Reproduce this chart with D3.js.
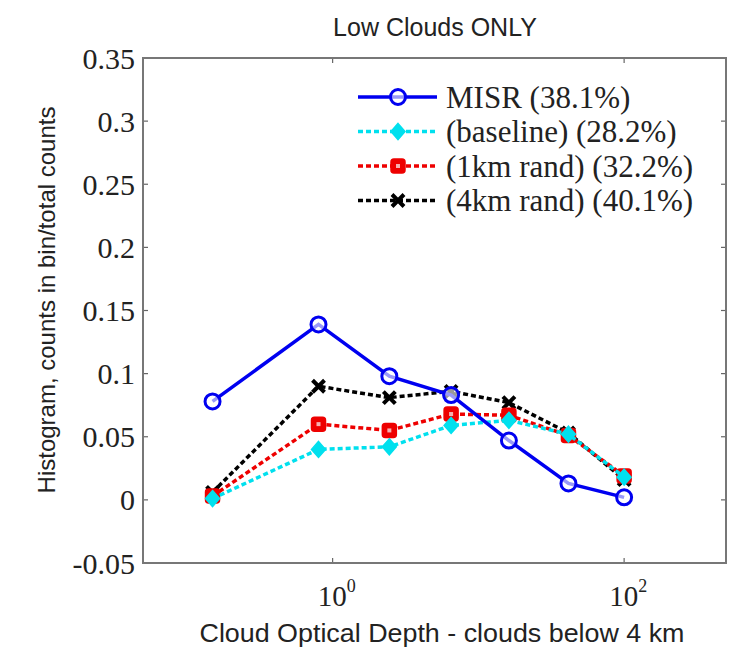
<!DOCTYPE html>
<html>
<head>
<meta charset="utf-8">
<script src="https://cdn.jsdelivr.net/npm/d3@7"></script>
<style>
  body { margin: 0; background: #fff; }
  svg { display: block; }
</style>
</head>
<body>
<div id="chart"></div>
<script>
// bin centres of optical depth
const tau = [0.15, 0.8, 2.45, 6.5, 16.2, 41.5, 100];

const misr     = [0.078, 0.139, 0.098, 0.083, 0.047, 0.013, 0.002];
const baseline = [0.001, 0.040, 0.042, 0.059, 0.063, 0.052, 0.018];
const rand1km  = [0.003, 0.060, 0.055, 0.068, 0.067, 0.051, 0.019];
const rand4km  = [0.006, 0.090, 0.081, 0.086, 0.077, 0.053, 0.016];

const seriesNames = ['MISR (38.1%)', '(baseline) (28.2%)', '(1km rand) (32.2%)', '(4km rand) (40.1%)'];
const yTicks = [-0.05, 0, 0.05, 0.1, 0.15, 0.2, 0.25, 0.3, 0.35];
const yTickLabels = ['-0.05', '0', '0.05', '0.1', '0.15', '0.2', '0.25', '0.3', '0.35'];
const xTicks = [1, 100];
const xTickExp = ['0', '2'];

const width = 736, height = 648;
const margin = { top: 58, right: 10, bottom: 85, left: 143 };

const series = [
  { name: seriesNames[0], values: misr, color: '#0000f0', dash: null, marker: 'circle' },
  { name: seriesNames[1], values: baseline, color: '#00e0ee', dash: '5,3', marker: 'diamond' },
  { name: seriesNames[2], values: rand1km, color: '#ee0000', dash: '5,3', marker: 'square' },
  { name: seriesNames[3], values: rand4km, color: '#000000', dash: '5,3', marker: 'x' }
];

const svg = d3.select('#chart').append('svg')
  .attr('width', width)
  .attr('height', height);

const x = d3.scaleLog()
  .domain([0.05, 500])
  .range([margin.left, width - margin.right]);

const y = d3.scaleLinear()
  .domain([-0.05, 0.35])
  .range([height - margin.bottom, margin.top]);

const x0 = margin.left, x1 = width - margin.right;
const y0 = height - margin.bottom, y1 = margin.top;

// ticks (inward) on all four sides
const tickG = svg.append('g').attr('stroke', '#666').attr('stroke-width', 1.2);
yTicks.forEach(t => {
  tickG.append('line').attr('x1', x0).attr('x2', x0 + 5).attr('y1', y(t)).attr('y2', y(t));
  tickG.append('line').attr('x1', x1).attr('x2', x1 - 5).attr('y1', y(t)).attr('y2', y(t));
});
xTicks.forEach(t => {
  tickG.append('line').attr('x1', x(t)).attr('x2', x(t)).attr('y1', y0).attr('y2', y0 - 5);
  tickG.append('line').attr('x1', x(t)).attr('x2', x(t)).attr('y1', y1).attr('y2', y1 + 5);
});

// frame
svg.append('rect')
  .attr('x', x0).attr('y', y1)
  .attr('width', x1 - x0).attr('height', y0 - y1)
  .attr('fill', 'none')
  .attr('stroke', '#777')
  .attr('stroke-width', 2);

// y tick labels
svg.append('g').selectAll('text')
  .data(yTicks)
  .enter().append('text')
  .attr('x', x0 - 8)
  .attr('y', d => y(d))
  .attr('dy', '0.35em')
  .attr('text-anchor', 'end')
  .attr('font-family', '"Liberation Serif", serif')
  .attr('font-size', 30)
  .attr('fill', '#222')
  .text((d, i) => yTickLabels[i]);

// x tick labels as 10^n
const xl = svg.append('g').selectAll('text')
  .data(xTicks)
  .enter().append('text')
  .attr('x', d => x(d) + 4)
  .attr('y', y0 + 43)
  .attr('text-anchor', 'middle')
  .attr('font-family', '"Liberation Serif", serif')
  .attr('font-size', 29)
  .attr('fill', '#222');
xl.append('tspan').text('10');
xl.append('tspan').attr('dy', -14).attr('font-size', 18).text((d, i) => xTickExp[i]);

// series
const line = d3.line()
  .x((d, i) => x(tau[i]))
  .y(d => y(d));

function drawMarker(g, type, cx, cy, color) {
  if (type === 'circle') {
    g.append('circle').attr('cx', cx).attr('cy', cy).attr('r', 7.5)
      .attr('fill', '#fff').attr('fill-opacity', 0.6)
      .attr('stroke', color).attr('stroke-width', 3);
  } else if (type === 'diamond') {
    g.append('path')
      .attr('d', `M${cx},${cy - 8}L${cx + 7},${cy}L${cx},${cy + 8}L${cx - 7},${cy}Z`)
      .attr('fill', color).attr('stroke', color).attr('stroke-width', 1.5);
  } else if (type === 'square') {
    g.append('rect').attr('x', cx - 7).attr('y', cy - 7).attr('width', 14).attr('height', 14)
      .attr('rx', 3)
      .attr('fill', color).attr('stroke', color).attr('stroke-width', 1.5);
    g.append('rect').attr('x', cx - 2).attr('y', cy - 2).attr('width', 4).attr('height', 4)
      .attr('fill', '#f6b0b0');
  } else {
    g.append('path')
      .attr('d', `M${cx - 6},${cy - 6}L${cx + 6},${cy + 6}M${cx - 6},${cy + 6}L${cx + 6},${cy - 6}`)
      .attr('stroke', color).attr('stroke-width', 4);
  }
}

// draw from the bottom of the legend upward so MISR ends on top
[...series].reverse().forEach(s => {
  const g = svg.append('g');
  g.append('path')
    .datum(s.values)
    .attr('d', line)
    .attr('fill', 'none')
    .attr('stroke', s.color)
    .attr('stroke-width', 3.5)
    .attr('stroke-dasharray', s.dash);
  s.values.forEach((v, i) => drawMarker(g, s.marker, x(tau[i]), y(v), s.color));
});

// legend (no box)
const legend = svg.append('g');
series.forEach((s, i) => {
  const ly = 97 + i * 34.5;
  legend.append('line')
    .attr('x1', 358).attr('x2', 437)
    .attr('y1', ly).attr('y2', ly)
    .attr('stroke', s.color)
    .attr('stroke-width', 3.5)
    .attr('stroke-dasharray', s.dash);
  drawMarker(legend, s.marker, 398, ly, s.color);
  legend.append('text')
    .attr('x', 446).attr('y', ly)
    .attr('dy', '0.35em')
    .attr('font-family', '"Liberation Serif", serif')
    .attr('font-size', 31)
    .attr('fill', '#222')
    .text(s.name);
});

// title and axis labels
svg.append('text')
  .attr('x', 435).attr('y', 36)
  .attr('text-anchor', 'middle')
  .attr('font-family', '"Liberation Sans", Arial, sans-serif')
  .attr('font-size', 25)
  .attr('fill', '#222')
  .text('Low Clouds ONLY');

svg.append('text')
  .attr('x', 442).attr('y', 642)
  .attr('text-anchor', 'middle')
  .attr('font-family', '"Liberation Sans", Arial, sans-serif')
  .attr('font-size', 25)
  .attr('textLength', 485)
  .attr('lengthAdjust', 'spacingAndGlyphs')
  .attr('fill', '#222')
  .text('Cloud Optical Depth - clouds below 4 km');

svg.append('text')
  .attr('transform', `translate(55,300) rotate(-90)`)
  .attr('text-anchor', 'middle')
  .attr('font-family', '"Liberation Sans", Arial, sans-serif')
  .attr('font-size', 24)
  .attr('fill', '#222')
  .text('Histogram, counts in bin/total counts');
</script>
</body>
</html>
